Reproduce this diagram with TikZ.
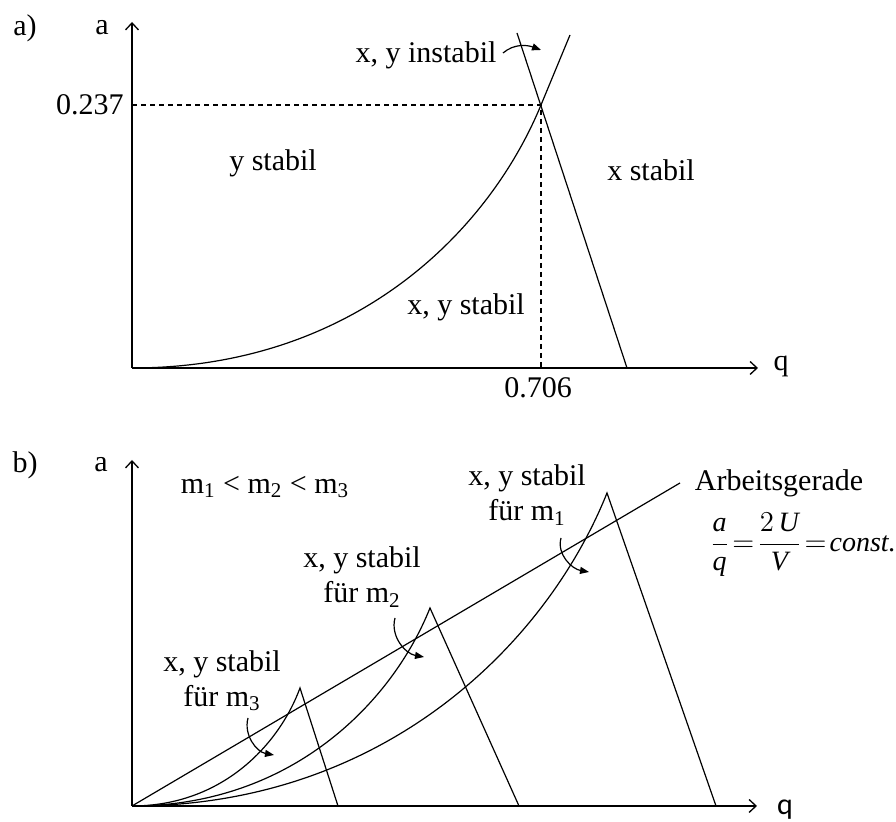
\documentclass[tikz,border=0pt]{standalone}
\usepackage{fontspec}
\setmainfont{Liberation Serif}
\newfontfamily\qfont{Carlito}
\usetikzlibrary{arrows.meta}
\begin{document}
\begin{tikzpicture}[x=0.5pt,y=0.5pt,
  lbl/.style={font=\fontsize{15}{18}\selectfont, inner sep=0pt},
  two/.style={lbl, align=center, font=\fontsize{15}{17.5}\selectfont},
  ax/.style={line width=0.65pt, -{Straight Barb[length=3.5pt,width=6.5pt]}},
  ln/.style={line width=0.6pt},
  dsh/.style={line width=0.6pt, dash pattern=on 2.5pt off 2pt},
  hook/.style={line width=0.6pt, -{Triangle[length=4.5pt,width=3.5pt]}}]
\useasboundingbox (0,0) rectangle (896,822);

% ---------------- panel a ----------------
\coordinate (oa) at (132,454);
\coordinate (ya) at (132,800);
\coordinate (xa) at (758,454);
\coordinate (pa) at (541,717);
\coordinate (ta) at (570,787);
\coordinate (fa1) at (517,789);
\coordinate (fa2) at (627,454);
\coordinate (da1) at (132,717);
\coordinate (da2) at (541,454);
\draw[ax] (oa) -- (ya);
\draw[ax] (oa) -- (xa);
\draw[dsh] (da1) -- (pa) -- (da2);
\draw[ln] (oa) .. controls (355,454) and (489,591) .. (pa) -- (ta);
\draw[ln] (fa1) -- (fa2);

\node[lbl] (lblA) at (25,794) {a)};
\node[lbl] (axA) at (102,794) {a};
\node[lbl, anchor=east] (v237) at (124,717) {0.237};
\node[lbl] (v706) at (538,434) {0.706};
\node[lbl] (qA) at (781,456) {q};
\node[lbl] (ystab) at (273,659) {y stabil};
\node[lbl] (xstab) at (651,652) {x stabil};
\node[lbl] (instab) at (426,767) {x, y instabil};
\node[lbl] (xystab) at (466,515) {x, y stabil};
\coordinate (ia1) at (503,769);
\coordinate (ia2) at (541,772);
\draw[hook] (ia1) to[out=40,in=160] (ia2);

% ---------------- panel b ----------------
\coordinate (ob) at (132,16);
\coordinate (yb) at (132,362);
\coordinate (xb) at (757,16);
\coordinate (ag) at (680,339);
\coordinate (p1) at (607,329);
\coordinate (f1) at (716,16);
\coordinate (p2) at (430,214);
\coordinate (f2) at (519,16);
\coordinate (p3) at (300,134);
\coordinate (f3) at (338,16);
\draw[ax] (ob) -- (yb);
\draw[ax] (ob) -- (xb);
\draw[ln] (ob) -- (ag);
\draw[ln] (ob) .. controls (385,16) and (547,179) .. (p1) -- (f1);
\draw[ln] (ob) .. controls (291,16) and (392,119) .. (p2) -- (f2);
\draw[ln] (ob) .. controls (222,16) and (279,77) .. (p3) -- (f3);

\node[lbl] (lblB) at (25,357) {b)};
\node[lbl] (axB) at (101,357) {a};
\node[lbl] (qB) at (785,12) {\qfont q};
\node[lbl] (order) at (265,335) {m\textsubscript{1} < m\textsubscript{2} < m\textsubscript{3}};
\node[lbl] (arb) at (779,339) {Arbeitsgerade};
\node[font=\fontsize{14}{16}\selectfont, inner sep=0pt] (frm) at (803,277)
  {\thickmuskip=2mu $\displaystyle\frac{\textit{a}}{\textit{q}}=\frac{2\,\textit{U}}{\textit{V}}=\textit{const.}$};

\node[two] (s1) at (527,327) {x, y stabil\\für m\textsubscript{1}};
\node[two] (s2) at (362,245) {x, y stabil\\für m\textsubscript{2}};
\node[two] (s3) at (222,141) {x, y stabil\\für m\textsubscript{3}};

\coordinate (h1a) at (561,284);
\coordinate (h1b) at (589,250);
\coordinate (h2a) at (395,204);
\coordinate (h2b) at (424,165);
\coordinate (h3a) at (248,104);
\coordinate (h3b) at (274,67);
\draw[hook] (h1a) to[out=255,in=170] (h1b);
\draw[hook] (h2a) to[out=255,in=170] (h2b);
\draw[hook] (h3a) to[out=255,in=170] (h3b);
\end{tikzpicture}
\end{document}
